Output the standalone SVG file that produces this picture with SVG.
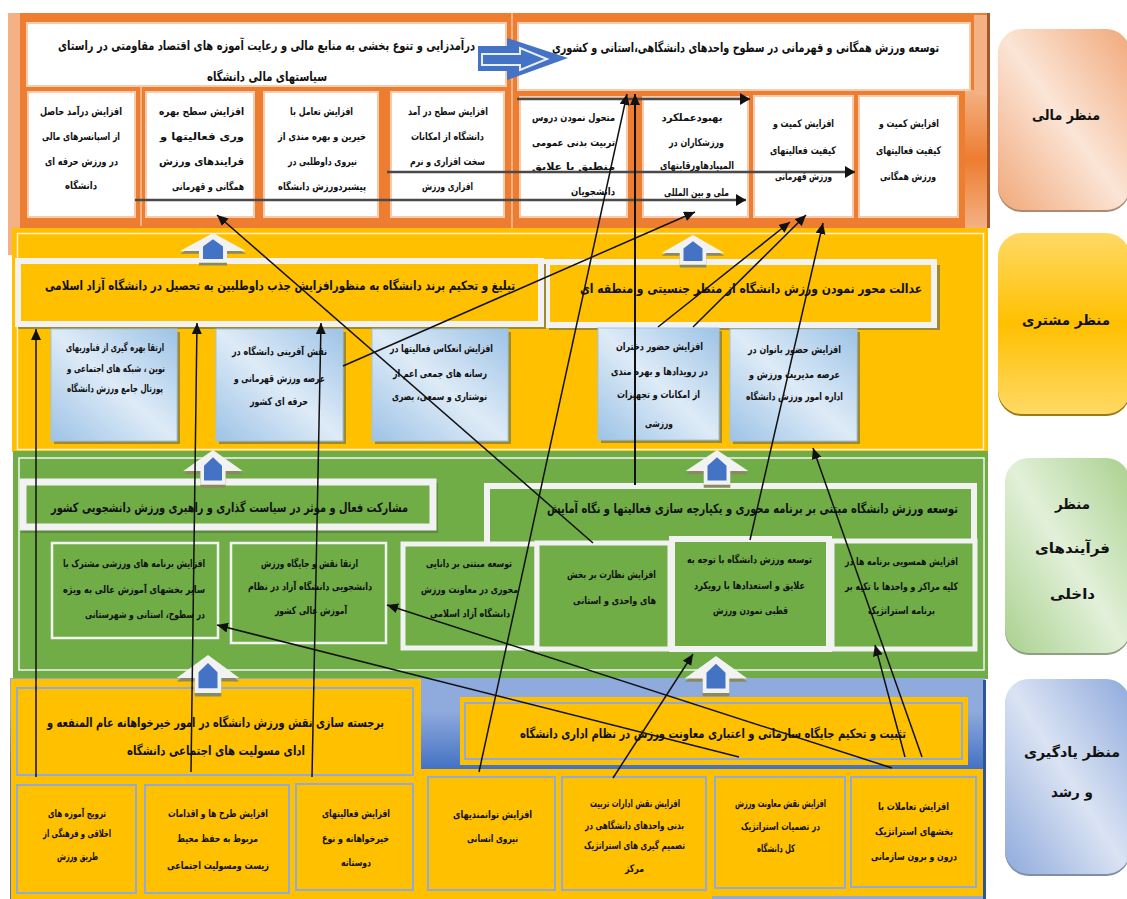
<svg xmlns="http://www.w3.org/2000/svg" width="1127" height="899" viewBox="0 0 1127 899">
<style>
text{font-family:"DejaVu Sans",sans-serif;font-weight:bold;fill:#111;direction:rtl;text-anchor:middle;font-size:10.5px}
.h{font-size:13px}
.s{font-size:14px}
.w{fill:#fff;stroke:#F8CBAD;stroke-width:2}
.hd{stroke:#F2F2F2;stroke-width:6}
.amb{fill:#FFC000}
.grn{fill:#70AD47}
.sh{fill:#A08A30}
.blu{fill:url(#gB);stroke:#9DC3E6;stroke-width:1}
.gb{fill:#70AD47;stroke:#F2F2F2}
.ab{fill:#FFC000;stroke:#8FAADC;stroke-width:2}
.c{fill:none;stroke:#111;stroke-width:1.5;marker-end:url(#m)}
.t{fill:none;stroke:#4a4a4a;stroke-width:2.5;marker-end:url(#m2)}
</style>
<defs>
<linearGradient id="gB" x1="1" y1="0" x2="0" y2="1"><stop offset="0" stop-color="#9DC3E6"/><stop offset=".5" stop-color="#DEEBF7"/><stop offset="1" stop-color="#9DC3E6"/></linearGradient>
<linearGradient id="gO" x1="1" y1="0" x2="0" y2="1"><stop offset="0" stop-color="#F1A87A"/><stop offset=".5" stop-color="#FBE5D6"/><stop offset="1" stop-color="#F1A87A"/></linearGradient>
<linearGradient id="gY" x1="0" y1="0" x2="0" y2="1"><stop offset="0" stop-color="#FFD966"/><stop offset=".5" stop-color="#FFC000"/><stop offset="1" stop-color="#FFD966"/></linearGradient>
<linearGradient id="gG" x1="1" y1="0" x2="0" y2="1"><stop offset="0" stop-color="#A9D18E"/><stop offset=".5" stop-color="#E2F0D9"/><stop offset="1" stop-color="#A9D18E"/></linearGradient>
<linearGradient id="gL" x1="1" y1="0" x2="0" y2="1"><stop offset="0" stop-color="#8FAADC"/><stop offset=".5" stop-color="#DAE3F3"/><stop offset="1" stop-color="#8FAADC"/></linearGradient>
<linearGradient id="gP" x1="0" y1="0" x2="0" y2="1"><stop offset="0" stop-color="#8FAADC"/><stop offset=".15" stop-color="#8FAADC"/><stop offset=".41" stop-color="#4472C4"/></linearGradient>
<linearGradient id="gS" x1="0" y1="0" x2="0" y2="1"><stop offset="0" stop-color="#F4B183"/><stop offset=".5" stop-color="#ED7D31"/><stop offset="1" stop-color="#F4B183"/></linearGradient>
<marker id="m" markerUnits="userSpaceOnUse" markerWidth="14" markerHeight="12" refX="11" refY="5" orient="auto"><path d="M0 0L11 5L0 10z" fill="#111"/></marker>
<marker id="m2" markerUnits="userSpaceOnUse" markerWidth="14" markerHeight="14" refX="10" refY="6" orient="auto"><path d="M0 0L10 6L0 12z" fill="#111"/></marker>
<g id="up"><path d="M0 3L33 23H14V36H-14V23H-33z" fill="#8a8a60"/><path d="M0 0L33 20H14V33H-14V20H-33z" fill="#F2F2F2"/><path d="M0 7L10 15V29H-10V15z" fill="#4472C4"/></g>
</defs>

<g id="panel-financial">
<rect x="8" y="13" width="980" height="215" fill="#ED7D31"/>
<rect x="8" y="13" width="12" height="242" fill="#F4B183"/>
<rect x="965" y="90" width="23" height="138" fill="url(#gS)"/>
<rect x="974" y="15" width="14" height="80" fill="#F4B183"/>
<rect x="987" y="13" width="3" height="215" fill="#A5562A"/>
<rect x="511" y="13" width="2" height="215" fill="#F4B183"/>
<rect x="140" y="86" width="2" height="140" fill="#F4B183"/>
</g>
<g id="panel-customer"><rect x="12" y="228" width="976" height="224" class="amb"/><rect x="17.500" y="233.500" width="966" height="216" fill="none" stroke="#FFF2CC" stroke-width="1.500"/></g>
<g id="panel-process"><rect x="13" y="451" width="975" height="228" class="grn"/><rect x="19" y="458" width="965" height="212" fill="none" stroke="#F2F2F2" stroke-width="1.500"/></g>
<g id="panel-learning">
<rect x="10" y="678" width="975" height="221" fill="url(#gP)"/>
<rect x="983" y="680" width="3" height="219" fill="#2F5597"/>
<rect x="11" y="679" width="410" height="220" class="amb"/>
<rect x="421" y="769" width="562" height="130" class="amb"/>
<rect x="460" y="697" width="508" height="68" class="amb"/>
<rect x="465" y="703" width="497" height="56" fill="none" stroke="#8FAADC" stroke-width="2"/>
<rect x="712" y="896" width="271" height="3" fill="#8FAADC"/>
</g>

<g id="fin-head-1"><rect x="27" y="23" width="479" height="63" class="w"/>
<text class="h" x="266.500" y="50" textLength="417" lengthAdjust="spacingAndGlyphs">درآمدزایی و تنوع بخشی به منابع مالی و رعایت آموزه های اقتصاد مقاومتی در راستای</text>
<text class="h" x="267" y="81" textLength="120" lengthAdjust="spacingAndGlyphs">سیاستهای مالی دانشگاه</text></g>
<g id="fin-head-2"><rect x="518" y="23" width="452" height="67" class="w"/>
<text class="h" x="745.500" y="52" textLength="387" lengthAdjust="spacingAndGlyphs">توسعه ورزش همگانی و قهرمانی در سطوح واحدهای دانشگاهی،استانی و کشوری</text></g>
<g id="fin-1"><rect x="28" y="92" width="107" height="125" class="w"/>
<text x="81" y="115" textLength="82" lengthAdjust="spacingAndGlyphs">افزایش درآمد حاصل</text>
<text x="81" y="140" textLength="78" lengthAdjust="spacingAndGlyphs">از اسپانسرهای مالی</text>
<text x="81.500" y="165" textLength="73" lengthAdjust="spacingAndGlyphs">در ورزش حرفه ای</text>
<text x="81" y="189" textLength="32" lengthAdjust="spacingAndGlyphs">دانشگاه</text></g>
<g id="fin-2"><rect x="146" y="92" width="108" height="125" class="w"/>
<text x="201.500" y="115" textLength="85" lengthAdjust="spacingAndGlyphs">افزایش سطح بهره</text>
<text x="202" y="140" textLength="84" lengthAdjust="spacingAndGlyphs">وری فعالیتها و</text>
<text x="201.500" y="165" textLength="85" lengthAdjust="spacingAndGlyphs">فرایندهای ورزش</text>
<text x="208" y="190" textLength="72" lengthAdjust="spacingAndGlyphs">همگانی و قهرمانی</text></g>
<g id="fin-3"><rect x="264" y="92" width="114" height="125" class="w"/>
<text x="321.500" y="115" textLength="63" lengthAdjust="spacingAndGlyphs">افزایش تعامل با</text>
<text x="322" y="140" textLength="88" lengthAdjust="spacingAndGlyphs">خیرین و بهره مندی از</text>
<text x="322.500" y="165" textLength="69" lengthAdjust="spacingAndGlyphs">نیروی داوطلبی در</text>
<text x="322" y="190" textLength="88" lengthAdjust="spacingAndGlyphs">پیشبردورزش دانشگاه</text></g>
<g id="fin-4"><rect x="391" y="92" width="113" height="125" class="w"/>
<text x="448" y="115" textLength="80" lengthAdjust="spacingAndGlyphs">افزایش سطح در آمد</text>
<text x="447.500" y="140" textLength="73" lengthAdjust="spacingAndGlyphs">دانشگاه از امکانات</text>
<text x="447.500" y="165" textLength="75" lengthAdjust="spacingAndGlyphs">سخت افزاری و نرم</text>
<text x="447.500" y="190" textLength="51" lengthAdjust="spacingAndGlyphs">افزاری ورزش</text></g>
<g id="fin-5"><rect x="520" y="97" width="107" height="120" class="w"/>
<text x="573.500" y="121" textLength="83" lengthAdjust="spacingAndGlyphs">متحول نمودن دروس</text>
<text x="573.500" y="146" textLength="83" lengthAdjust="spacingAndGlyphs">تربیت بدنی عمومی</text>
<text x="573.500" y="170" textLength="83" lengthAdjust="spacingAndGlyphs">منطبق با علایق</text>
<text x="593" y="195" textLength="44" lengthAdjust="spacingAndGlyphs">دانشجویان</text></g>
<g id="fin-6"><rect x="643" y="97" width="105" height="120" class="w"/>
<text x="692" y="121" textLength="61" lengthAdjust="spacingAndGlyphs">بهبودعملکرد</text>
<text x="696.500" y="146" textLength="55" lengthAdjust="spacingAndGlyphs">ورزشکاران در</text>
<text x="697" y="169" textLength="74" lengthAdjust="spacingAndGlyphs">المپیادهاورقابتهای</text>
<text x="696.500" y="196" textLength="65" lengthAdjust="spacingAndGlyphs">ملی و بین المللی</text></g>
<g id="fin-7"><rect x="754" y="96" width="99" height="121" class="w"/>
<text x="803.500" y="127" textLength="61" lengthAdjust="spacingAndGlyphs">افزایش کمیت و</text>
<text x="803" y="154" textLength="66" lengthAdjust="spacingAndGlyphs">کیفیت فعالیتهای</text>
<text x="803.500" y="180" textLength="57" lengthAdjust="spacingAndGlyphs">ورزش قهرمانی</text></g>
<g id="fin-8"><rect x="859" y="96" width="99" height="121" class="w"/>
<text x="909" y="127" textLength="60" lengthAdjust="spacingAndGlyphs">افزایش کمیت و</text>
<text x="908.500" y="154" textLength="65" lengthAdjust="spacingAndGlyphs">کیفیت فعالیتهای</text>
<text x="908" y="180" textLength="56" lengthAdjust="spacingAndGlyphs">ورزش همگانی</text></g>

<g id="cus-head-2"><rect x="549" y="265" width="391" height="65" class="sh"/><rect x="547" y="262" width="387" height="63" class="amb hd"/>
<text class="h" x="751" y="293" textLength="342" lengthAdjust="spacingAndGlyphs">عدالت محور نمودن ورزش دانشگاه از منظر جنسیتی و منطقه ای</text></g>
<g id="cus-head-1"><rect x="18" y="264" width="528" height="65" class="sh"/><rect x="18" y="261" width="523" height="63" class="amb hd"/>
<text class="h" x="280" y="290" textLength="470" lengthAdjust="spacingAndGlyphs">تبلیغ و تحکیم برند دانشگاه به منظورافزایش جذب داوطلبین به تحصیل در دانشگاه آزاد اسلامی</text></g>
<g id="cus-1"><rect x="54" y="332" width="126" height="112" class="sh"/><rect x="51" y="329" width="126" height="112" class="blu"/>
<text x="115" y="351" textLength="98" lengthAdjust="spacingAndGlyphs">ارتقا بهره گیری از فناوریهای</text>
<text x="116" y="372" textLength="98" lengthAdjust="spacingAndGlyphs">نوین ، شبکه های اجتماعی و</text>
<text x="115" y="392" textLength="96" lengthAdjust="spacingAndGlyphs">پورتال جامع ورزش دانشگاه</text></g>
<g id="cus-2"><rect x="219" y="332" width="127" height="112" class="sh"/><rect x="216" y="329" width="127" height="112" class="blu"/>
<text x="279.500" y="355" textLength="95" lengthAdjust="spacingAndGlyphs">نقش آفرینی دانشگاه در</text>
<text x="279.500" y="382" textLength="91" lengthAdjust="spacingAndGlyphs">عرصه ورزش قهرمانی و</text>
<text x="279" y="405" textLength="58" lengthAdjust="spacingAndGlyphs">حرفه ای کشور</text></g>
<g id="cus-3"><rect x="375" y="332" width="136" height="112" class="sh"/><rect x="372" y="329" width="136" height="112" class="blu"/>
<text x="441.500" y="352" textLength="103" lengthAdjust="spacingAndGlyphs">افزایش انعکاس فعالیتها در</text>
<text x="440" y="377" textLength="94" lengthAdjust="spacingAndGlyphs">رسانه های جمعی اعم از</text>
<text x="439.500" y="400" textLength="95" lengthAdjust="spacingAndGlyphs">نوشتاری و سمعی، بصری</text></g>
<g id="cus-4"><rect x="601" y="331" width="121" height="112" class="sh"/><rect x="598" y="328" width="121" height="112" class="blu"/>
<text x="659.500" y="350" textLength="87" lengthAdjust="spacingAndGlyphs">افزایش حضور دختران</text>
<text x="659.500" y="375" textLength="97" lengthAdjust="spacingAndGlyphs">در رویدادها و بهره مندی</text>
<text x="658.500" y="398" textLength="83" lengthAdjust="spacingAndGlyphs">از امکانات و تجهیزات</text>
<text x="659" y="427" textLength="28" lengthAdjust="spacingAndGlyphs">ورزشی</text></g>
<g id="cus-5"><rect x="733" y="332" width="127" height="112" class="sh"/><rect x="730" y="329" width="127" height="112" class="blu"/>
<text x="794.500" y="353" textLength="93" lengthAdjust="spacingAndGlyphs">افزایش حضور بانوان در</text>
<text x="794.500" y="378" textLength="91" lengthAdjust="spacingAndGlyphs">عرصه مدیریت ورزش و</text>
<text x="794.500" y="400" textLength="97" lengthAdjust="spacingAndGlyphs">اداره امور ورزش دانشگاه</text></g>

<g id="pro-head-1"><rect x="21" y="483" width="417" height="50" fill="#5f8a40"/><rect x="23" y="482" width="410" height="45" class="gb" stroke-width="7"/>
<text class="h" x="229.500" y="512" textLength="357" lengthAdjust="spacingAndGlyphs">مشارکت فعال و موثر در سیاست گذاری و راهبری ورزش دانشجویی کشور</text></g>
<g id="pro-head-2"><rect x="487" y="486" width="487" height="60" class="gb" stroke-width="6"/>
<text class="h" x="752.500" y="513" textLength="411" lengthAdjust="spacingAndGlyphs">توسعه ورزش دانشگاه مبتنی بر برنامه محوری و یکپارچه سازی فعالیتها و نگاه آمایش</text></g>
<g id="pro-1"><rect x="52" y="543" width="166" height="95" class="gb" stroke-width="2.500"/>
<text x="134" y="567" textLength="142" lengthAdjust="spacingAndGlyphs">افزایش برنامه های ورزشی مشترک با</text>
<text x="134" y="593" textLength="142" lengthAdjust="spacingAndGlyphs">سایر بخشهای آموزش عالی به ویژه</text>
<text x="145" y="618" textLength="120" lengthAdjust="spacingAndGlyphs">در سطوح، استانی و شهرستانی</text></g>
<g id="pro-2"><rect x="231" y="543" width="155" height="100" class="gb" stroke-width="2.500"/>
<text x="309.500" y="567" textLength="97" lengthAdjust="spacingAndGlyphs">ارتقا نقش و جایگاه ورزش</text>
<text x="310" y="590" textLength="124" lengthAdjust="spacingAndGlyphs">دانشجویی دانشگاه آزاد در نظام</text>
<text x="311" y="614" textLength="72" lengthAdjust="spacingAndGlyphs">آموزش عالی کشور</text></g>
<g id="pro-3"><rect x="403" y="544" width="134" height="104" class="gb" stroke-width="5"/>
<text x="469" y="567" textLength="86" lengthAdjust="spacingAndGlyphs">توسعه مبتنی بر دانایی</text>
<text x="469.500" y="593" textLength="97" lengthAdjust="spacingAndGlyphs">محوری در معاونت ورزش</text>
<text x="470" y="617" textLength="80" lengthAdjust="spacingAndGlyphs">دانشگاه آزاد اسلامی</text></g>
<g id="pro-4"><rect x="537" y="543" width="133" height="106" class="gb" stroke-width="5"/>
<text x="611.500" y="578" textLength="89" lengthAdjust="spacingAndGlyphs">افزایش نظارت بر بخش</text>
<text x="614.500" y="604" textLength="83" lengthAdjust="spacingAndGlyphs">های واحدی و استانی</text></g>
<g id="pro-6"><rect x="832" y="541" width="143" height="108" class="gb" stroke-width="5"/>
<text x="901.500" y="565" textLength="113" lengthAdjust="spacingAndGlyphs">افزایش همسویی برنامه ها در</text>
<text x="901.500" y="590" textLength="113" lengthAdjust="spacingAndGlyphs">کلیه مراکز و واحدها با تکیه بر</text>
<text x="901.500" y="614" textLength="67" lengthAdjust="spacingAndGlyphs">برنامه استراتژیک</text></g>
<g id="pro-5"><rect x="672" y="539" width="157" height="110" class="gb" stroke-width="6"/>
<text x="749.500" y="563" textLength="125" lengthAdjust="spacingAndGlyphs">توسعه ورزش دانشگاه با توجه به</text>
<text x="749.500" y="589" textLength="111" lengthAdjust="spacingAndGlyphs">علایق و استعدادها با رویکرد</text>
<text x="750.500" y="614" textLength="75" lengthAdjust="spacingAndGlyphs">قطبی نمودن ورزش</text></g>

<g id="lea-head-1"><rect x="17" y="688" width="396" height="87" class="ab"/>
<text class="h" x="215.500" y="727" textLength="337" lengthAdjust="spacingAndGlyphs">برجسته سازی نقش ورزش دانشگاه در امور خیرخواهانه عام المنفعه و</text>
<text class="h" x="216" y="755" textLength="178" lengthAdjust="spacingAndGlyphs">ادای مسولیت های اجتماعی دانشگاه</text></g>
<g id="lea-1"><rect x="17" y="785" width="119" height="108" class="ab"/>
<text x="77" y="817" textLength="58" lengthAdjust="spacingAndGlyphs">ترویج آموزه های</text>
<text x="77" y="837" textLength="68" lengthAdjust="spacingAndGlyphs">اخلاقی و فرهنگی از</text>
<text x="77.500" y="860" textLength="41" lengthAdjust="spacingAndGlyphs">طریق ورزش</text></g>
<g id="lea-2"><rect x="145" y="785" width="144" height="108" class="ab"/>
<text x="218" y="817" textLength="100" lengthAdjust="spacingAndGlyphs">افزایش طرح ها و اقدامات</text>
<text x="217.500" y="842" textLength="81" lengthAdjust="spacingAndGlyphs">مربوط به حفظ محیط</text>
<text x="218" y="869" textLength="102" lengthAdjust="spacingAndGlyphs">زیست ومسولیت اجتماعی</text></g>
<g id="lea-3"><rect x="296" y="784" width="117" height="106" class="ab"/>
<text x="356" y="817" textLength="68" lengthAdjust="spacingAndGlyphs">افزایش فعالیتهای</text>
<text x="355.500" y="842" textLength="67" lengthAdjust="spacingAndGlyphs">خیرخواهانه و نوع</text>
<text x="356" y="866" textLength="30" lengthAdjust="spacingAndGlyphs">دوستانه</text></g>
<g id="lea-head-2">
<text class="h" x="713" y="738" textLength="386" lengthAdjust="spacingAndGlyphs">تثبیت و تحکیم جایگاه سازمانی و اعتباری معاونت ورزش در نظام اداری دانشگاه</text></g>
<g id="lea-4"><rect x="428" y="777" width="127" height="113" class="ab"/>
<text x="492.500" y="818" textLength="79" lengthAdjust="spacingAndGlyphs">افزایش توانمندیهای</text>
<text x="492.500" y="842" textLength="51" lengthAdjust="spacingAndGlyphs">نیروی انسانی</text></g>
<g id="lea-5"><rect x="562" y="777" width="144" height="113" class="ab"/>
<text x="635" y="807" textLength="90" lengthAdjust="spacingAndGlyphs">افزایش نقش ادارات تربیت</text>
<text x="634.500" y="829" textLength="99" lengthAdjust="spacingAndGlyphs">بدنی واحدهای دانشگاهی در</text>
<text x="634.500" y="849" textLength="101" lengthAdjust="spacingAndGlyphs">تصمیم گیری های استراتژیک</text>
<text x="634.500" y="872" textLength="19" lengthAdjust="spacingAndGlyphs">مرکز</text></g>
<g id="lea-6"><rect x="715" y="777" width="130" height="111" class="ab"/>
<text x="780.500" y="807" textLength="91" lengthAdjust="spacingAndGlyphs">افزایش نقش معاونت ورزش</text>
<text x="780.500" y="830" textLength="79" lengthAdjust="spacingAndGlyphs">در تصمیات استراتژیک</text>
<text x="776" y="852" textLength="38" lengthAdjust="spacingAndGlyphs">کل دانشگاه</text></g>
<g id="lea-7"><rect x="851" y="777" width="125" height="110" class="ab"/>
<text x="913.500" y="810" textLength="71" lengthAdjust="spacingAndGlyphs">افزایش تعاملات با</text>
<text x="914" y="835" textLength="78" lengthAdjust="spacingAndGlyphs">بخشهای استراتژیک</text>
<text x="914" y="860" textLength="86" lengthAdjust="spacingAndGlyphs">درون و برون سازمانی</text></g>

<g id="block-arrows">
<use href="#up" transform="translate(213 233) scale(1 .9)"/>
<use href="#up" transform="translate(693 235) scale(.95 .9)"/>
<use href="#up" transform="translate(213 450) scale(.9 1.05)"/>
<use href="#up" transform="translate(717 450) scale(.95 1.05)"/>
<use href="#up" transform="translate(208 655) scale(.95 1.15)"/>
<use href="#up" transform="translate(716 656) scale(.95 1.12)"/>
<path d="M478 46H507V38L568 58L507 80V71H478z" fill="#4472C4"/>
<path d="M482 54H520V48L547 59L520 70V65H482z" fill="#4472C4" stroke="#E8EEF8" stroke-width="2"/>
</g>

<g id="connectors">
<path class="t" d="M517 99H750"/>
<path class="t" d="M387 172H855"/>
<path class="t" d="M135 200H746"/>
<path class="c" d="M593 543L217 215"/>
<path class="c" d="M343 366L695 212"/>
<path class="c" d="M36 777V329"/>
<path class="c" d="M191 772L197 323"/>
<path class="c" d="M312 777L321 323"/>
<path class="c" style="stroke-width:2" d="M635 485V94"/>
<path class="c" d="M479 772L627 94"/>
<path class="c" d="M658 327L790 222"/>
<path class="c" d="M693 327L806 215"/>
<path class="c" d="M750 540L823 223"/>
<path class="c" d="M922 757L813 448"/>
<path class="c" d="M905 757L875 645"/>
<path class="c" d="M892 768L387 605"/>
<path class="c" d="M739 757L217 625"/>
<path class="c" d="M613 778L693 654"/>
</g>

<g id="label-financial"><rect x="998" y="32" width="132" height="180" rx="24" fill="#B08A70"/><rect x="998" y="29" width="132" height="181" rx="24" fill="url(#gO)"/>
<text class="s" x="1066" y="120" textLength="68" lengthAdjust="spacingAndGlyphs">منظر مالی</text></g>
<g id="label-customer"><rect x="998" y="236" width="132" height="180" rx="24" fill="#9C7A10"/><rect x="998" y="233" width="132" height="181" rx="24" fill="url(#gY)"/>
<text class="s" x="1066" y="325" textLength="88" lengthAdjust="spacingAndGlyphs">منظر مشتری</text></g>
<g id="label-process"><rect x="1005" y="461" width="125" height="194" rx="24" fill="#8FA080"/><rect x="1005" y="458" width="125" height="195" rx="24" fill="url(#gG)"/>
<text class="s" x="1072.500" y="509" textLength="35" lengthAdjust="spacingAndGlyphs">منظر</text>
<text class="s" x="1072.500" y="553" textLength="75" lengthAdjust="spacingAndGlyphs">فرآیندهای</text>
<text class="s" x="1072.500" y="599" textLength="45" lengthAdjust="spacingAndGlyphs">داخلی</text></g>
<g id="label-learning"><rect x="1005" y="682" width="125" height="194" rx="24" fill="#7f8fa8"/><rect x="1005" y="679" width="125" height="195" rx="24" fill="url(#gL)"/>
<text class="s" x="1072" y="757" textLength="96" lengthAdjust="spacingAndGlyphs">منظر یادگیری</text>
<text class="s" x="1072" y="797" textLength="42" lengthAdjust="spacingAndGlyphs">و رشد</text></g>
</svg>
